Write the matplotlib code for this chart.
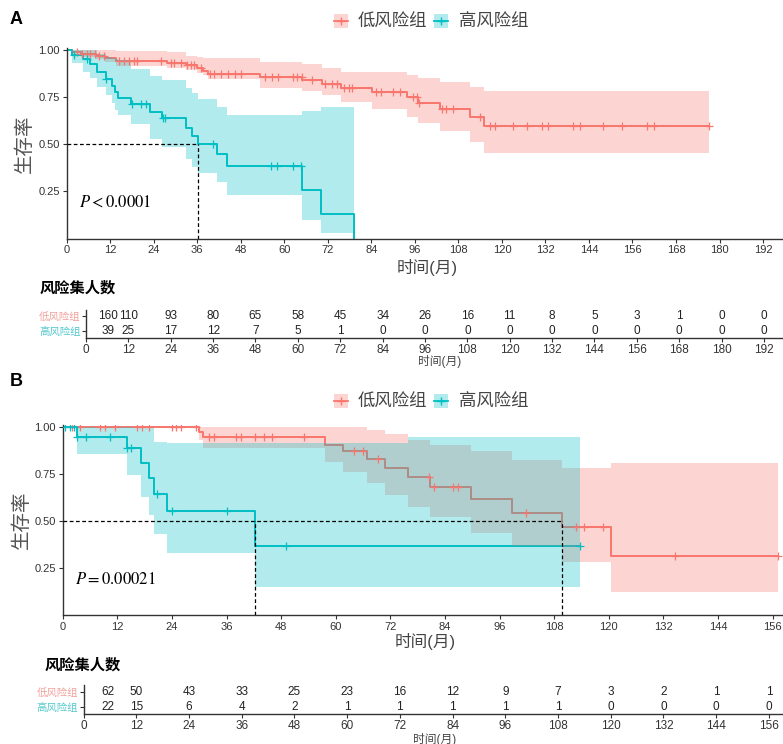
import numpy as np
import matplotlib.pyplot as plt
from matplotlib.patches import Patch
from matplotlib.lines import Line2D

plt.rcParams['font.family'] = ['Liberation Sans', 'Noto Sans CJK SC', 'DejaVu Sans']
plt.rcParams['mathtext.fontset'] = 'stix'

groups = ['低风险组', '高风险组']

# ---- panel A: KM steps (months, survival) ----
low_a_t = [1.5, 4, 8, 10.5, 13.5, 27.6, 33, 36, 37.6, 39, 53.3, 65, 70.4, 75.5, 84.3,
           93.7, 96.9, 103, 111.2, 115]
low_a_s = [0.99, 0.98, 0.97, 0.957, 0.943, 0.93, 0.92, 0.905, 0.89, 0.871, 0.858, 0.843,
           0.822, 0.80, 0.776, 0.749, 0.717, 0.686, 0.643, 0.597]
low_a_end = 177
low_a_lo = [1.0, 0.985, 0.965, 0.95, 0.935, 0.915, 0.905, 0.895, 0.88, 0.865, 0.845, 0.80,
            0.785, 0.76, 0.726, 0.686, 0.647, 0.611, 0.57, 0.514, 0.456]
low_a_hi = [1.0, 1.0, 1.0, 1.0, 0.998, 0.995, 0.99, 0.97, 0.965, 0.96, 0.955, 0.935, 0.925,
            0.905, 0.885, 0.885, 0.867, 0.85, 0.832, 0.806, 0.784]
low_a_cens = [2.8, 4.2, 5.6, 6.5, 7.9, 8.8, 10.2, 14.4, 15.7, 17.1, 18.5, 19.4, 25.9, 28.7,
              29.6, 31.5, 33.3, 34.3, 35.2, 37.0, 39.4, 40.7, 42.6, 44.4, 46.3, 48.1, 54.6,
              56.5, 58.3, 62.5, 63.4, 64.8, 67.6, 71.3, 73.1, 74.5, 76.4, 77.8, 78.7, 85.2,
              86.6, 90.0, 91.9, 95.5, 96.5, 97.2, 103.6, 104.7, 106.6, 113.9, 116.7, 118.1,
              123.0, 126.8, 131.0, 132.8, 139.7, 141.5, 148.0, 153.0, 159.9, 162.0, 177.0]

high_a_t = [1.4, 4.4, 6.3, 8.3, 10.9, 12.5, 13.2, 14.1, 17.6, 22.9, 26.2, 33.0, 34.5, 36.3,
            41.4, 44.2, 65.0, 70.2, 79.2]
high_a_s = [0.975, 0.95, 0.925, 0.885, 0.845, 0.81, 0.775, 0.745, 0.712, 0.673, 0.638, 0.588,
            0.544, 0.50, 0.447, 0.387, 0.258, 0.129, 0.0]
high_a_end = 79.2
high_a_lo = [1.0, 0.93, 0.885, 0.85, 0.806, 0.76, 0.72, 0.68, 0.655, 0.61, 0.53, 0.488, 0.42,
             0.38, 0.346, 0.30, 0.23, 0.10, 0.03, 0.0]
high_a_hi = [1.0, 1.0, 1.0, 1.0, 0.98, 0.965, 0.955, 0.95, 0.945, 0.90, 0.86, 0.84, 0.80,
             0.77, 0.74, 0.70, 0.655, 0.675, 0.696, 0.0]
high_a_cens = [2.0, 5.6, 10.9, 18.0, 20.4, 21.8, 26.6, 27.1, 40.3, 56.3, 58.1, 62.5, 64.6]

median_a = [36.3]
p_text_a = r'$P < 0.0001$'

# ---- panel B ----
low_b_t = [29.9, 30.9, 57.7, 61.7, 66.8, 70.9, 75.8, 80.8, 89.7, 98.7, 109.7, 120.6]
low_b_s = [0.97, 0.945, 0.905, 0.871, 0.826, 0.779, 0.734, 0.681, 0.614, 0.543, 0.469, 0.31]
low_b_end = 157.3
low_b_lo = [1.0, 0.93, 0.885, 0.814, 0.76, 0.70, 0.637, 0.575, 0.517, 0.434, 0.363, 0.278, 0.12]
low_b_hi = [1.0, 1.0, 1.0, 1.0, 1.0, 0.983, 0.96, 0.93, 0.90, 0.873, 0.823, 0.78, 0.805]
low_b_cens = [2.0, 3.8, 8.2, 9.3, 11.5, 16.3, 17.4, 18.9, 24.0, 24.8, 25.9, 29.2, 32.1, 33.2,
              38.0, 39.1, 42.2, 44.3, 46.1, 53.1, 64.1, 65.9, 69.3, 80.6, 81.7, 85.8, 86.8,
              101.8, 112.7, 114.6, 118.7, 134.6, 157.3]

high_b_t = [3.1, 14.1, 17.1, 19.0, 20.1, 23.0, 42.2]
high_b_s = [0.945, 0.885, 0.805, 0.726, 0.64, 0.55, 0.365]
high_b_end = 113.7
high_b_band_t = [0, 3.1, 14.1, 17.1, 19.0, 20.1, 23.0, 42.2, 75.8]
high_b_lo = [1.0, 0.855, 0.745, 0.625, 0.53, 0.43, 0.33, 0.145, 0.145]
high_b_hi = [1.0, 1.0, 1.0, 1.0, 1.0, 0.92, 0.912, 0.912, 0.947]
high_b_cens = [0.5, 1.6, 2.4, 3.2, 5.1, 10.3, 14.1, 15.1, 20.7, 24.0, 36.2, 49.0, 113.7]

median_b = [42.2, 109.7]
p_text_b = r'$P = 0.00021$'

# ---- numbers at risk ----
risk_t_a = [6.3, 12, 24, 36, 48, 60, 72, 84, 96, 108, 120, 132, 144, 156, 168, 180, 192]
risk_low_a = [160, 110, 93, 80, 65, 58, 45, 34, 26, 16, 11, 8, 5, 3, 1, 0, 0]
risk_high_a = [39, 25, 17, 12, 7, 5, 1, 0, 0, 0, 0, 0, 0, 0, 0, 0, 0]
risk_t_b = [5.5, 12, 24, 36, 48, 60, 72, 84, 96, 108, 120, 132, 144, 156]
risk_low_b = [62, 50, 43, 33, 25, 23, 16, 12, 9, 7, 3, 2, 1, 1]
risk_high_b = [22, 15, 6, 4, 2, 1, 1, 1, 1, 1, 0, 0, 0, 0]

PINK = '#F8766D'
CYAN = '#00BFC4'
AXC = '#333333'

W, H = 783, 744
fig = plt.figure(figsize=(W / 100, H / 100), dpi=100)


def px_axes(left, top, right, bottom):
    return fig.add_axes([left / W, 1 - bottom / H, (right - left) / W, (bottom - top) / H])


def fx(x):
    return x / W


def fy(y):
    return 1 - y / H


def km(ax, ev_t, ev_s, end, band_t, lo, hi, cens, color):
    t = np.r_[0, ev_t, end]
    s = np.r_[1, ev_s, ev_s[-1]]
    ax.step(t, s, where='post', color=color, lw=1.4, zorder=2)
    bt = np.r_[band_t, end]
    ax.fill_between(bt, np.r_[lo, lo[-1]], np.r_[hi, hi[-1]], step='post',
                    color=color, alpha=0.3, lw=0, zorder=3)
    sv = np.r_[1, ev_s][np.searchsorted(ev_t, cens, side='right')]
    ax.plot(cens, sv, ls='none', marker='+', ms=6, mew=0.9, color=color, zorder=5)


def style_main(ax, xmax, xticks):
    ax.set_xlim(0, xmax)
    ax.set_ylim(0, 1.01)
    ax.set_xticks(xticks)
    ax.set_yticks([0.25, 0.5, 0.75, 1.0])
    ax.set_yticklabels(['0.25', '0.50', '0.75', '1.00'])
    for sp in ['top', 'right']:
        ax.spines[sp].set_visible(False)
    for sp in ['left', 'bottom']:
        ax.spines[sp].set_color(AXC)
        ax.spines[sp].set_linewidth(1.0)
    ax.tick_params(length=3, width=0.8, color=AXC, labelsize=8, labelcolor=AXC, pad=2)


def risk_table(ax, xmax, xticks, cols, low, high, ylim):
    ax.set_xlim(0, xmax)
    ax.set_ylim(*ylim)
    for x, n in zip(cols, low):
        ax.text(x, 1, str(n), ha='center', va='center', fontsize=8.5, color='#222222')
    for x, n in zip(cols, high):
        ax.text(x, 0, str(n), ha='center', va='center', fontsize=8.5, color='#222222')
    ax.set_xticks(xticks)
    ax.set_yticks([1, 0])
    ax.set_yticklabels(groups)
    for lab, c in zip(ax.get_yticklabels(), ['#F2A19B', '#55C9CC']):
        lab.set_color(c)
        lab.set_fontsize(7.5)
    for sp in ['top', 'right']:
        ax.spines[sp].set_visible(False)
    for sp in ['left', 'bottom']:
        ax.spines[sp].set_color(AXC)
        ax.spines[sp].set_linewidth(1.0)
    ax.tick_params(axis='x', length=3, width=0.8, color=AXC, pad=1.5, labelsize=8.5, labelcolor=AXC)
    ax.tick_params(axis='y', length=3, width=0.8, color=AXC, pad=1)


def legend(y):
    handles = [(Patch(fc=PINK, alpha=0.3, ec='none'), Line2D([], [], color=PINK, marker='+', lw=1.3, ms=6)),
               (Patch(fc=CYAN, alpha=0.3, ec='none'), Line2D([], [], color=CYAN, marker='+', lw=1.3, ms=6))]
    fig.legend(handles=handles, labels=groups, loc='center', bbox_to_anchor=(fx(431), fy(y)),
               ncol=2, frameon=False, handlelength=0.8, handleheight=0.8, handletextpad=0.6,
               columnspacing=0.4, prop={'size': 12.5}, labelcolor='#444444')


# ================= panel A =================
ax_a = px_axes(66.7, 48.1, 783, 238.5)
km(ax_a, low_a_t, low_a_s, low_a_end, np.r_[0, low_a_t], low_a_lo, low_a_hi, low_a_cens, PINK)
km(ax_a, high_a_t, high_a_s, high_a_end, np.r_[0, high_a_t], high_a_lo, high_a_hi, high_a_cens, CYAN)
ax_a.plot([0, median_a[0]], [0.5, 0.5], ls=(0, (3, 2)), color='black', lw=0.9, zorder=6)
ax_a.vlines(median_a, 0, 0.5, linestyles=[(0, (3, 2))], colors='black', lw=0.9, zorder=6)
style_main(ax_a, 197.5, np.arange(0, 193, 12))
legend(22)
fig.text(fx(10), fy(20), 'A', fontsize=13, fontweight='bold', ha='left', va='center')
fig.text(fx(25), fy(144), '生存率', rotation=90, fontsize=14, color='#555555', ha='center', va='center')
fig.text(fx(427), fy(268), '时间(月)', fontsize=12, color='#444444', ha='center', va='center')
fig.text(fx(79), fy(202), p_text_a, fontsize=12, ha='left', va='center')

tab_a = px_axes(86, 310, 783, 338)
risk_table(tab_a, 197.4, np.arange(0, 193, 12), risk_t_a, risk_low_a, risk_high_a, (-0.49, 1.38))
fig.text(fx(40), fy(288), '风险集人数', fontsize=11, fontweight='bold', ha='left', va='center')
fig.text(fx(440), fy(362), '时间(月)', fontsize=8.5, color='#444444', ha='center', va='center')

# ================= panel B =================
ax_b = px_axes(62.7, 424.8, 783, 614.7)
km(ax_b, low_b_t, low_b_s, low_b_end, np.r_[0, low_b_t], low_b_lo, low_b_hi, low_b_cens, PINK)
km(ax_b, high_b_t, high_b_s, high_b_end, high_b_band_t, high_b_lo, high_b_hi, high_b_cens, CYAN)
ax_b.plot([0, median_b[-1]], [0.5, 0.5], ls=(0, (3, 2)), color='black', lw=0.9, zorder=6)
ax_b.vlines(median_b, 0, 0.5, linestyles=[(0, (3, 2))], colors='black', lw=0.9, zorder=6)
style_main(ax_b, 158.3, np.arange(0, 157, 12))
legend(402)
fig.text(fx(10), fy(381), 'B', fontsize=13, fontweight='bold', ha='left', va='center')
fig.text(fx(22), fy(520), '生存率', rotation=90, fontsize=14, color='#555555', ha='center', va='center')
fig.text(fx(425), fy(641), '时间(月)', fontsize=12, color='#444444', ha='center', va='center')
fig.text(fx(75), fy(579), p_text_b, fontsize=12, ha='left', va='center')

tab_b = px_axes(83.5, 685, 783, 714)
risk_table(tab_b, 159.2, np.arange(0, 157, 12), risk_t_b, risk_low_b, risk_high_b, (-0.51, 1.51))
fig.text(fx(45), fy(665), '风险集人数', fontsize=11, fontweight='bold', ha='left', va='center')
fig.text(fx(435), fy(739), '时间(月)', fontsize=8.5, color='#444444', ha='center', va='center')

fig.savefig('out.png', dpi=100)
